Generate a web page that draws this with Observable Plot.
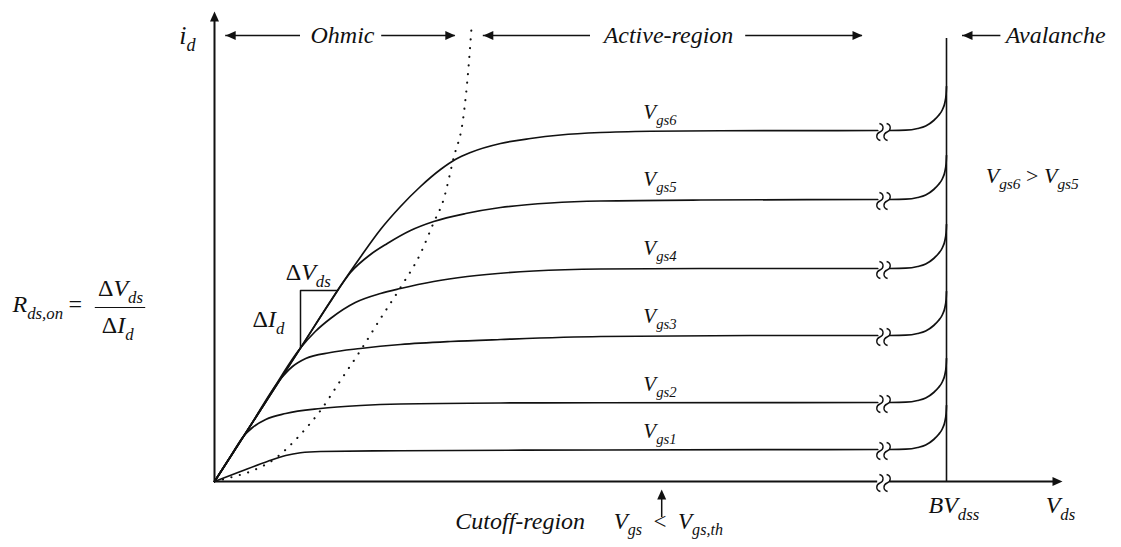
<!DOCTYPE html>
<html>
<head>
<meta charset="utf-8">
<script src="https://cdn.jsdelivr.net/npm/d3@7"></script>
<script src="https://cdn.jsdelivr.net/npm/@observablehq/plot@0.6"></script>
<style>
  html, body { margin: 0; padding: 0; background: #fff; }
  #chart svg { display: block; }
</style>
</head>
<body>
<div id="chart"></div>
<script>
// MOSFET output characteristics: i_d versus V_ds for six gate voltages.
// Units are arbitrary (schematic): V_ds 0..106, i_d 0..94.

// Left (ohmic + active) branches, [V_ds, i_d]
const vgs6 = [[0,0],[5.75,14.3],[10.75,26.7],[15.75,39.1],[18.25,44.9],[20.75,50.4],[23.25,55],[25.75,59],[28.25,62.4],[30.1,64.4],[32,65.8],[35.75,67.6],[39.5,68.6],[43.25,69.3],[48.25,69.8],[54.5,70.05],[63.25,70.15],[82.9,70.2]];
const vgs5 = [[0,0],[5.75,14.3],[10.75,26.7],[14.5,36],[17,41.8],[19.5,45.4],[21.6,47.6],[24.5,50.2],[27.4,52],[31.4,53.6],[35.75,54.8],[42,55.7],[48.25,56.1],[60.75,56.3],[82.9,56.4]];
const vgs4 = [[0,0],[5.75,14.3],[10.75,26.7],[12.6,30],[14.5,32.6],[17.6,35.8],[20.75,37.6],[23.25,38.6],[27.4,40],[31.6,41],[39.9,42.1],[48.25,42.5],[60.75,42.6],[82.9,42.6]];
const vgs3 = [[0,0],[4.5,11.2],[8.25,20.5],[9.75,23],[11.4,24.6],[14.5,25.8],[18.25,26.6],[23.25,27.4],[29.5,28],[35.75,28.4],[48.25,29],[67,29.2],[82.9,29.2]];
const vgs2 = [[0,0],[2,5],[3.6,9],[4.75,10.8],[6.4,12.4],[8.9,13.6],[13.25,14.6],[18.25,15.2],[23.25,15.5],[35.75,15.7],[48.25,15.75],[82.9,15.8]];
const vgs1 = [[0,0],[3.25,2],[6.6,4],[8.9,5.2],[10.75,5.75],[13.25,6],[23.25,6.15],[48.25,6.3],[82.9,6.4]];

// Avalanche branches right of the axis break, [V_ds, i_d]
const aval6 = [[84.4,70.2],[86.4,70.26],[87.9,70.6],[88.9,71.1],[89.9,72.2],[90.5,73.2],[91,74.4],[91.3,75.8],[91.45,77.4],[91.5,79]];
const aval5 = [[84.4,56.4],[86.4,56.46],[87.9,56.8],[88.9,57.3],[89.9,58.4],[90.5,59.4],[91,60.6],[91.3,62],[91.45,63.6],[91.5,65.2]];
const aval4 = [[84.4,42.6],[86.4,42.66],[87.9,43],[88.9,43.5],[89.9,44.6],[90.5,45.6],[91,46.8],[91.3,48.2],[91.45,49.8],[91.5,51.4]];
const aval3 = [[84.4,29.2],[86.4,29.26],[87.9,29.6],[88.9,30.1],[89.9,31.2],[90.5,32.2],[91,33.4],[91.3,34.8],[91.45,36.4],[91.5,38]];
const aval2 = [[84.4,15.8],[86.4,15.86],[87.9,16.2],[88.9,16.7],[89.9,17.8],[90.5,18.8],[91,20],[91.3,21.4],[91.45,23],[91.5,24.6]];
const aval1 = [[84.4,6.4],[86.4,6.46],[87.9,6.8],[88.9,7.3],[89.9,8.4],[90.5,9.4],[91,10.6],[91.3,12],[91.45,13.6],[91.5,15.2]];

// Ohmic / active boundary (pinch-off locus)
const pinchOff = [[0,0],[2,0.8],[4.5,2],[7.4,4.4],[10.75,9.4],[13.25,14.2],[15.75,20.2],[18.25,26.2],[20.75,32.6],[23.25,38.8],[25.75,45.6],[27.4,51.8],[28.6,56.2],[29.9,64.8],[31.1,72.8],[31.75,82.8],[32.1,90.2]];

const seriesNames = ["Vgs6","Vgs5","Vgs4","Vgs3","Vgs2","Vgs1"];
const leftBranches = [vgs6, vgs5, vgs4, vgs3, vgs2, vgs1];
const rightBranches = [aval6, aval5, aval4, aval3, aval2, aval1];
const plateauLevels = [70.2, 56.4, 42.6, 29.2, 15.8, 6.4];

// Curve labels
const curveLabels = ["V_{gs6}","V_{gs5}","V_{gs4}","V_{gs3}","V_{gs2}","V_{gs1}"];
const curveLabelX = [53.6, 53.6, 53.6, 53.6, 53.6, 53.6];
const curveLabelY = [72.6, 59.2, 45.4, 31.8, 18.2, 8.8];

// Axis geometry
const xMax = 106, yMax = 94;
const breakX = 83.625, breakLeft = 82.9, breakRight = 84.4;
const avalancheX = 91.5, avalancheTop = 88.6;

// Region arrows along the top
const regionY = 89.2;
const regionSegments = [
  {x1: 1.4, x2: 10.75}, {x1: 20.9, x2: 30.1},
  {x1: 33.6, x2: 47}, {x1: 66.4, x2: 81},
  {x1: 93.5, x2: 98.3}
];
const leftHeads = [1.4, 33.6, 93.5];
const rightHeads = [30.1, 81];

// R_ds,on triangle
const triangle = [[10.75,26.8],[10.75,38.2],[15.4,38.2]];

// Text annotations: [text, x, y, size]
const centeredNotes = [
  ["i_{d}", -3.4, 87.6, 26],
  ["Ohmic", 16, 87.8, 24],
  ["Active-region", 56.75, 87.8, 24],
  ["=", -17.4, 34, 24],
  ["ΔV_{ds}", -11.75, 37.2, 24],
  ["ΔI_{d}", -12.1, 29.8, 24]
];
const leftNotes = [
  ["Avalanche", 98.9, 87.8, 24],
  ["V_{gs6} > V_{gs5}", 96.4, 59.8, 22],
  ["BV_{dss}", 89.25, -6.2, 24],
  ["V_{ds}", 103.9, -6.2, 24],
  ["Cutoff-region", 30.1, -9.4, 24],
  ["V_{gs} \u00a0<\u00a0 V_{gs,th}", 49.9, -9.4, 23],
  ["ΔV_{ds}", 8.9, 40.3, 24],
  ["ΔI_{d}", 4.75, 31, 24],
  ["R_{ds,on}", -25.25, 34, 24]
];
const fractionBar = {x1: -14.9, x2: -8.6, y: 34.8};

// Cut-off pointer below the V_ds axis
const cutoffArrow = {x: 55.9, y1: -7.2, y2: -1.6};

// Build line rows
const curveRows = [];
seriesNames.forEach((name, i) => {
  leftBranches[i].forEach(([x, y]) => curveRows.push({x, y, seg: name + "-L"}));
  rightBranches[i].forEach(([x, y]) => curveRows.push({x, y, seg: name + "-R"}));
});
const pinchRows = pinchOff.map(([x, y]) => ({x, y}));
const triRows = triangle.map(([x, y]) => ({x, y}));
const labelRows = curveLabels.map((t, i) => ({t, x: curveLabelX[i], y: curveLabelY[i]}));
const toRows = (list) => list.map(([t, x, y, s]) => ({t, x, y, s}));

// Glyphs: filled arrowheads (tip at origin) and the axis-break squiggle
const headUp = {draw(c) { c.moveTo(0, 0); c.lineTo(4.5, 10); c.lineTo(-4.5, 10); c.closePath(); }};
const headRight = {draw(c) { c.moveTo(0, 0); c.lineTo(-10, -4.5); c.lineTo(-10, 4.5); c.closePath(); }};
const headLeft = {draw(c) { c.moveTo(0, 0); c.lineTo(10, -4.5); c.lineTo(10, 4.5); c.closePath(); }};
const breakMark = {draw(c) {
  for (const dx of [-3.6, 3.6]) {
    c.moveTo(dx - 0.5, -7);
    c.bezierCurveTo(dx + 4.5, -5.5, dx + 4, 0, dx, 1.5);
    c.bezierCurveTo(dx - 4, 3, dx - 4.5, 8.5, dx + 0.5, 10);
  }
}};

const ink = "#111";
const serif = "'Liberation Serif', 'Times New Roman', serif";

const chart = Plot.plot({
  width: 1121,
  height: 547,
  marginLeft: 214,
  marginRight: 59,
  marginTop: 11,
  marginBottom: 66,
  x: {domain: [0, xMax], axis: null},
  y: {domain: [0, yMax], axis: null},
  style: {fontFamily: serif, background: "#fff", color: ink},
  marks: [
    // axes
    Plot.ruleX([0], {y1: 0, y2: yMax - 1.5, stroke: ink, strokeWidth: 2}),
    Plot.ruleY([0], {x1: 0, x2: breakLeft, stroke: ink, strokeWidth: 2}),
    Plot.ruleY([0], {x1: breakRight, x2: xMax - 1, stroke: ink, strokeWidth: 2}),
    Plot.dot([{x: 0, y: yMax}], {x: "x", y: "y", symbol: headUp, fill: ink, stroke: null}),
    Plot.dot([{x: xMax, y: 0}], {x: "x", y: "y", symbol: headRight, fill: ink, stroke: null}),
    // avalanche wall
    Plot.ruleX([avalancheX], {y1: 0, y2: avalancheTop, stroke: ink, strokeWidth: 1.6}),
    // pinch-off boundary
    Plot.line(pinchRows, {x: "x", y: "y", curve: "monotone-x", stroke: ink, strokeWidth: 2.1,
      strokeDasharray: "0.1 8.6", strokeLinecap: "round"}),
    // characteristic curves
    Plot.line(curveRows, {x: "x", y: "y", z: "seg", curve: "monotone-x", stroke: ink, strokeWidth: 1.7}),
    // axis break marks
    Plot.dot([...plateauLevels, 0], {x: () => breakX, y: d => d, symbol: breakMark, fill: "none", stroke: ink, strokeWidth: 1.4}),
    // Rds,on triangle
    Plot.line(triRows, {x: "x", y: "y", stroke: ink, strokeWidth: 1.5}),
    // region arrows
    Plot.ruleY(regionSegments, {x1: "x1", x2: "x2", y: () => regionY, stroke: ink, strokeWidth: 1.5}),
    Plot.dot(leftHeads, {x: d => d, y: () => regionY, symbol: headLeft, fill: ink, stroke: null}),
    Plot.dot(rightHeads, {x: d => d, y: () => regionY, symbol: headRight, fill: ink, stroke: null}),
    // cut-off pointer
    Plot.ruleX([cutoffArrow], {x: "x", y1: "y1", y2: d => d.y2 - 1.5, stroke: ink, strokeWidth: 1.5}),
    Plot.dot([cutoffArrow], {x: "x", y: "y2", symbol: headUp, fill: ink, stroke: null}),
    // fraction bar
    Plot.ruleY([fractionBar], {x1: "x1", x2: "x2", y: "y", stroke: ink, strokeWidth: 1.2}),
    // labels
    Plot.text(labelRows, {x: "x", y: "y", text: "t", textAnchor: "start", lineAnchor: "bottom",
      fontSize: 21, fontStyle: "italic", fill: ink}),
    Plot.text(toRows(centeredNotes), {x: "x", y: "y", text: "t", textAnchor: "middle", lineAnchor: "bottom",
      fontSize: "s", fontStyle: "italic", fill: ink}),
    Plot.text(toRows(leftNotes), {x: "x", y: "y", text: "t", textAnchor: "start", lineAnchor: "bottom",
      fontSize: "s", fontStyle: "italic", fill: ink})
  ]
});

// Rich text: "_{...}" becomes a subscript, and Δ = < > are set upright.
function richText(svg) {
  d3.select(svg).selectAll("text").each(function () {
    const raw = this.textContent;
    if (!/_\{|[Δ=<>]/.test(raw)) return;
    const sel = d3.select(this);
    sel.selectAll("*").remove();
    sel.text(null);
    const re = /_\{([^}]*)\}|([Δ=<>])|([^_Δ=<>]+)/g;
    let m, lowered = false;
    while ((m = re.exec(raw))) {
      if (m[1] !== undefined) {
        sel.append("tspan").attr("font-size", "70%").attr("dy", lowered ? null : "0.43em").text(m[1]);
        lowered = true;
      } else {
        const ts = sel.append("tspan").text(m[2] || m[3]);
        if (m[2]) ts.attr("font-style", "normal");
        if (lowered) { ts.attr("dy", "-0.3em"); lowered = false; }
      }
    }
  });
}
richText(chart);
document.getElementById("chart").append(chart);
</script>
</body>
</html>
